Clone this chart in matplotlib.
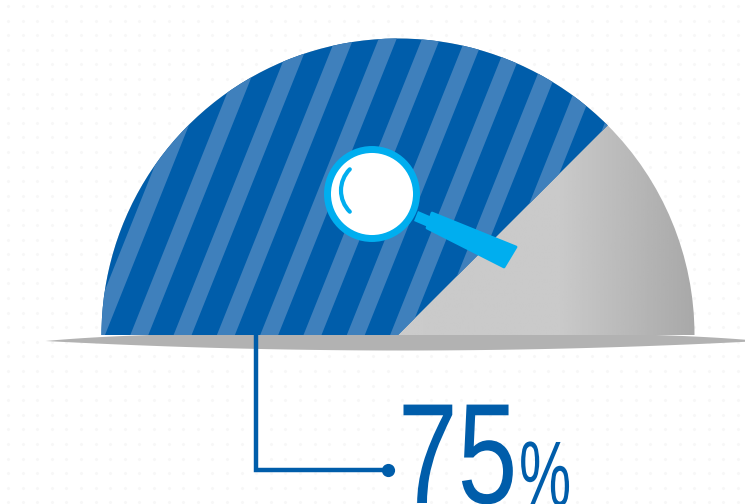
import numpy as np
import matplotlib.pyplot as plt
import matplotlib.patheffects as pe
from matplotlib.patches import Wedge, Circle, Polygon, Arc
from matplotlib.transforms import Affine2D

share = 75
percent_label = "%"

BLUE = "#005DAA"
STRIPE = "#3F80BC"
CYAN = "#00AEEF"
GROUND = "#B2B2B2"


class Squeeze(pe.AbstractPathEffect):
    # condensed look for the big figures, no narrow face is installed
    def __init__(self, sx):
        super().__init__()
        self.sx = sx

    def draw_path(self, renderer, gc, tpath, affine, rgbFace=None):
        renderer.draw_path(gc, tpath, Affine2D().scale(self.sx, 1) + affine, rgbFace)


fig = plt.figure(figsize=(7.45, 5.04), dpi=100)
ax = fig.add_axes([0, 0, 1, 1])
ax.set_xlim(0, 745)
ax.set_ylim(504, 0)
ax.axis("off")

# faint dotted paper texture
dx, dy = np.meshgrid(np.arange(8, 745, 14.6), np.arange(6, 504, 14.6))
ax.scatter(dx.ravel(), dy.ravel(), s=5, color="#F7F7F7", linewidths=0, zorder=0)

# ground shadow with pointed tips
gx = np.linspace(45, 760, 200)
gu = (gx - 402.5) / 357.5
ax.fill_between(gx, 340.5 - 8 * (1 - gu ** 4), 340.5 + 9.5 * (1 - gu ** 2), color=GROUND, lw=0, zorder=1)

cx, cy, r = 398, 335, 296.5
split = 180 + share / 100 * 180

# grey part of the dome, darker towards the right
shade = np.interp(np.linspace(100, 696, 300), [100, 560, 696], [0.80, 0.79, 0.66])
img = ax.imshow(shade[None, :], extent=(100, 696, 335, 38), cmap="gray", vmin=0, vmax=1,
                aspect="auto", zorder=2)
img.set_clip_path(Wedge((cx, cy), r, 180, 360, transform=ax.transData))
ax.set_xlim(0, 745)
ax.set_ylim(504, 0)

blue = Wedge((cx, cy), r, 180, split, facecolor=BLUE, lw=0, zorder=3)
ax.add_patch(blue)

# slanted stripes, clipped to the blue part
lean = 0.40
for x0 in np.arange(87, 760, 43.3):
    stripe = Polygon([(x0, 335), (x0 + 18, 335), (x0 + 18 + lean * 300, 35), (x0 + lean * 300, 35)],
                     facecolor=STRIPE, lw=0, zorder=4)
    ax.add_patch(stripe)
    stripe.set_clip_path(blue)

# magnifying glass
ax.add_patch(Polygon([(418, 211), (432, 217), (428, 227), (414, 221)], facecolor=CYAN, lw=0, zorder=5))
ax.add_patch(Polygon([(432, 213), (516, 247), (504, 267), (427, 228)], facecolor=CYAN,
                     edgecolor=CYAN, lw=2, joinstyle="round", zorder=5))
ax.add_patch(Circle((372, 194), 44.5, facecolor="white", edgecolor=CYAN, lw=5, zorder=6))
ax.add_patch(Arc((371, 190.5), 60, 60, theta1=135, theta2=225, color=CYAN, lw=3,
                 capstyle="round", zorder=7))

# leader line from the dome to the value
ax.plot([256, 256, 388], [335, 470, 470], color=BLUE, lw=3.2, solid_joinstyle="miter", zorder=5)
ax.plot([388], [470], "o", color=BLUE, ms=9.5, mew=0, zorder=5)

ax.text(398, 503, str(share), color=BLUE, fontsize=103, family="Liberation Sans",
        ha="left", va="baseline", zorder=6, path_effects=[Squeeze(0.75)])
ax.text(519, 506, percent_label, color=BLUE, fontsize=67, family="Liberation Sans",
        ha="left", va="baseline", zorder=6, path_effects=[Squeeze(0.63)])

fig.savefig("out.png", dpi=100)
